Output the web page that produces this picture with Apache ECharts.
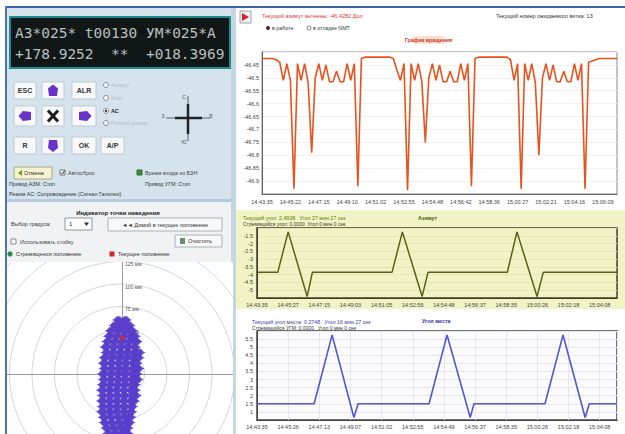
<!DOCTYPE html>
<html><head><meta charset="utf-8">
<script src="https://cdn.jsdelivr.net/npm/echarts/dist/echarts.min.js"></script>
<style>
html,body{margin:0;padding:0;background:#fff;}
#wrap{position:relative;width:625px;height:434px;overflow:hidden;background:#fff;}
#left{position:absolute;left:0;top:0;width:234px;height:434px;}
#polar{position:absolute;left:7px;top:262px;width:226px;height:172px;background:#fff;}
#right{position:absolute;left:234px;top:0;width:391px;height:434px;}
</style></head>
<body><div id="wrap"><div id="left"></div><div id="polar"></div><div id="right"></div></div>
<script>
// ---------------- DATA ----------------
const displayLine1 = 'АЗ*025* t00130 УМ*025*А';
const displayLine2 = '+178.9252  **  +018.3969';

const topTimes = ['14:43:35','14:45:22','14:47:15','14:49:10','14:51:02','14:52:55','14:54:48','14:56:42','14:58:36','15:00:27','15:02:21','15:04:16','15:06:09'];
const topValues = [
 -46.425,-46.425,-46.425,-46.425,-46.43,-46.44,-46.51,-46.445,-46.51,-46.93,
 -46.445,-46.51,-46.445,-46.52,-46.79,-46.50,-46.445,-46.51,-46.45,-46.515,
 -46.515,-46.475,-46.515,-46.515,-46.445,-46.51,-46.445,-46.92,-46.425,-46.42,
 -46.42,-46.42,-46.42,-46.42,-46.42,-46.42,-46.42,-46.425,-46.47,-46.51,
 -46.445,-46.935,-46.445,-46.51,-46.445,-46.51,-46.75,-46.50,-46.445,-46.51,
 -46.45,-46.515,-46.515,-46.475,-46.515,-46.515,-46.445,-46.51,-46.445,-46.92,
 -46.425,-46.42,-46.42,-46.42,-46.42,-46.42,-46.42,-46.42,-46.42,-46.42,
 -46.43,-46.51,-46.445,-46.93,-46.445,-46.51,-46.445,-46.52,-46.80,-46.50,
 -46.445,-46.51,-46.45,-46.515,-46.515,-46.475,-46.515,-46.515,-46.445,-46.51,
 -46.445,-46.93,-46.44,-46.435,-46.43,-46.425,-46.425,-46.425,-46.425,-46.425,
 -46.425
];

const midTimes = ['14:43:35','14:45:27','14:47:15','14:49:03','14:51:05','14:52:56','14:54:48','14:56:37','14:58:35','15:00:26','15:02:18','15:04:08'];
const midX = [0, 6, 9, 14.5, 16, 39, 42, 47.7, 49.4, 72.3, 75.1, 80.9, 82.7, 104];
const midY = [-3.85, -3.85, -1.25, -5.4, -3.85, -3.85, -1.25, -5.4, -3.85, -3.85, -1.25, -5.4, -3.85, -3.85];

const botTimes = ['14:43:35','14:45:26','14:47:13','14:49:07','14:51:02','14:52:55','14:54:49','14:56:37','14:58:35','15:00:26','15:02:18','15:04:08'];
const botX = [0, 16.5, 21.7, 28, 29.2, 49.7, 54.9, 61.6, 62.7, 83.2, 88.4, 94.8, 96, 104];
const botY = [1.5, 1.5, 5.75, 0.65, 1.5, 1.5, 5.75, 0.65, 1.5, 1.5, 5.75, 0.65, 1.5, 1.5];

const ringLabels = [25, 50, 75, 100, 125];
const blobRowsY = [60,54,48,42,36,30,24,18,12,6,0,-6,-12,-18,-24,-30,-36,-42,-48,-54,-60,-66];
const blobRowsX = [
 [-4,4],[-8,0,8],[-12,-4,4,11],[-14,-6,2,10,14],[-16,-8,0,8,16],[-18,-10,-2,6,14],
 [-17,-9,-1,7,15,19],[-19,-11,-3,5,13,18],[-20,-12,-4,4,12,16],[-19,-11,-3,5,13,18],[-21,-13,-5,3,11,16],
 [-20,-12,-4,4,12,17],[-21,-13,-5,3,11,14],[-22,-14,-6,2,10,14],[-21,-13,-5,3,11,15],[-22,-14,-6,2,10,13],
 [-21,-13,-5,3,11],[-22,-14,-6,2,10],[-20,-12,-4,4,9],[-19,-11,-3,5,8],[-17,-9,-1,6],[-15,-7,1,6]
];
const currentPos = [0, 40];

// ---------------- HELPERS ----------------
const F = 'Liberation Sans, Arial, sans-serif';
function R(x,y,w,h,fill,stroke,lw,z){return {type:'rect',shape:{x:x,y:y,width:w,height:h},style:{fill:fill,stroke:stroke||null,lineWidth:lw||1},z:z||1};}
function T(x,y,text,size,fill,opt){opt=opt||{};return {type:'text',x:x,y:y,z:opt.z||5,style:{text:text,font:(opt.bold?'bold ':'')+size+'px '+(opt.family||F),fill:fill,textAlign:opt.align||'left',textVerticalAlign:'middle',align:opt.align||'left',verticalAlign:'middle'}};}
function L(x1,y1,x2,y2,stroke,lw,z){return {type:'line',shape:{x1:x1,y1:y1,x2:x2,y2:y2},style:{stroke:stroke,lineWidth:lw||1},z:z||3};}
function P(points,fill,z){return {type:'polygon',shape:{points:points},style:{fill:fill},z:z||4};}
function C(cx,cy,r,fill,stroke,z){return {type:'circle',shape:{cx:cx,cy:cy,r:r},style:{fill:fill,stroke:stroke||null,lineWidth:1},z:z||4};}

// ---------------- LEFT PANEL ----------------
const purple = '#6a32c8';
const btnFill = '#f6f8fa', btnStroke = '#bfcad2';
const leftG = [
  R(0,0,234,434,'#ffffff',null,1,0),
  R(7,8,227,192,'#d4e3ec',null,1,0),
  R(5,6,229,2,'#3a66a6',null,1,2),
  R(5,6,2,428,'#4a77b4',null,1,2),
  // display
  R(10,17,220,51,'#111616','#1f8b8e',2,2),
  T(15,33,displayLine1,14.5,'#b9c0c0',{family:'DejaVu Sans Mono, monospace'}),
  T(15,54,displayLine2,14.5,'#b9c0c0',{family:'DejaVu Sans Mono, monospace'}),
  // buttons row 1
  R(14,82,22,17,btnFill,btnStroke), T(25,90.5,'ESC',7,'#333',{align:'center',bold:true}),
  R(42,82,22,17,btnFill,btnStroke), P([[53,84.5],[58,88.5],[57,96],[49,96],[48,88.5]],purple),
  R(72,82,24,17,btnFill,btnStroke), T(84,90.5,'ALR',7,'#333',{align:'center',bold:true}),
  // row 2
  R(14,106,22,20,btnFill,btnStroke), P([[18.5,116],[23,111],[31,112],[31,120],[23,121]],purple),
  R(42,106,22,20,btnFill,btnStroke), L(48,110.5,58,121.5,'#1e1e1e',3,4), L(58,110.5,48,121.5,'#1e1e1e',3,4),
  R(72,106,24,20,btnFill,btnStroke), P([[91.5,116],[87,111],[79,112],[79,120],[87,121]],purple),
  // row 3
  R(14,137,22,17,btnFill,btnStroke), T(25,145.5,'R',7,'#333',{align:'center',bold:true}),
  R(42,137,22,17,btnFill,btnStroke), P([[53,152],[58,148],[57,140],[49,140],[48,148]],purple),
  R(72,137,24,17,btnFill,btnStroke), T(84,145.5,'OK',7,'#333',{align:'center',bold:true}),
  R(101,137,23,17,btnFill,btnStroke), T(112.5,145.5,'A/P',7,'#333',{align:'center',bold:true}),
  // radios
  C(106,85,2.5,'#fff','#7d8a92'), T(111,85,'Азимут',5.5,'#b0bfc8'),
  C(106,98,2.5,'#fff','#7d8a92'), T(111,98,'Угол',5.5,'#b0bfc8'),
  C(106,111,2.5,'#fff','#7d8a92'), C(106,111,1.2,'#333'), T(111,111,'АС',5.5,'#2a2a2a',{bold:true}),
  C(106,123,2.5,'#fff','#7d8a92'), T(111,123,'Ручной режим',5.5,'#b0bfc8'),
  // crosshair
  L(166,118,210,118,'#5a646a',1), L(175,118,202,118,'#202427',2.5),
  L(188,96,188,141,'#5a646a',1), L(188,104,188,134,'#202427',2.5),
  T(184,97,'С',5,'#555',{align:'center'}), T(184,142,'Ю',5,'#555',{align:'center'}),
  T(163,116,'З',5,'#555',{align:'center'}), T(211,116,'В',5,'#555',{align:'center'}),
  // row controls
  R(14,167,38,12,'#f5f3d0','#a8a888'), P([[18,173],[22,170],[22,176]],'#6a9a20'), T(24,173,'Отмена',5.5,'#333'),
  R(60,170,5,5,'#fff','#777'), L(61,172.5,62.5,174,'#333',1,5), L(62.5,174,64.5,170.5,'#333',1,5), T(68,173,'Автосброс',5.5,'#444'),
  R(137,170,5,5,'#3d8e3d','#2a6a2a'), T(145,173,'Время входа из БЗН',5.5,'#444'),
  T(9,184,'Привод АЗМ: Стоп',5.3,'#333'), T(145,184,'Привод УГМ: Стоп',5.3,'#333'),
  T(9,194,'Режим АС: Сопровождение (Сигнал Галилео)',5.3,'#333'),
  // lower panel header
  R(7,200,227,62,'#f0f2f3',null,1,0),
  R(7,199,227,3,'#b6cbdd',null,1,2),
  T(118,213,'Индикатор точки наведения',6,'#222',{align:'center',bold:true}),
  T(11,224,'Выбор градуса:',5.5,'#333'),
  R(65,218,27,12,'#fff','#8a969e'), T(69,224,'1',6,'#222'), P([[84,222.5],[89,222.5],[86.5,226]],'#333'),
  R(108,218,114,13,'#f7f8f9','#a8b2b8'), T(165,224.5,'◄◄ Домой в текущее положение',5.5,'#333',{align:'center'}),
  R(11,239,5,5,'#fff','#888'), T(20,241.5,'Использовать стойку',5.5,'#444'),
  R(175,235,47,12,'#f7f8f9','#a8b2b8'), R(180,238,5,6,'#6b8f6b'), T(188,241,'Очистить',5.5,'#333'),
  C(10,254,2.6,'#2e8a4a'), T(16,254,'Стремящееся положение',5.5,'#333'),
  R(109.5,251.5,5,5,'#d02828'), T(118,254,'Текущее положение',5.5,'#333'),
  R(7,262,227,172,'#ffffff',null,1,0),
  R(231,8,3,426,'#c4d6e2',null,1,2)
];
const leftChart = echarts.init(document.getElementById('left'), null, {renderer:'svg'});
leftChart.setOption({animation:false, graphic:{elements:leftG}});

// ---------------- POLAR (target indicator) ----------------
const pxPerMm = 0.9, cX = 115, cY = 112, pW = 226, pH = 172;
const blobData = [];
blobRowsY.forEach((y,i)=>blobRowsX[i].forEach(x=>blobData.push([x,y])));
const polarChart = echarts.init(document.getElementById('polar'), null, {renderer:'svg'});
polarChart.setOption({
  animation:false,
  polar:{center:[cX,cY], radius:175*pxPerMm},
  angleAxis:{type:'value', min:0, max:360, startAngle:90, show:false, splitLine:{show:false}},
  radiusAxis:{type:'value', min:0, max:175, interval:25,
    axisLine:{show:false}, axisTick:{show:false},
    splitLine:{show:true, lineStyle:{color:'#d6d6d6', width:1}},
    axisLabel:{show:true, margin:-3, align:'left', verticalAlign:'top', fontSize:5, color:'#555', fontFamily:F,
      formatter:v=>ringLabels.indexOf(v)>=0? v+' мм':''}},
  grid:{left:0, top:0, width:pW, height:pH},
  xAxis:{type:'value', min:-cX/pxPerMm, max:(pW-cX)/pxPerMm, axisLine:{onZero:true, lineStyle:{color:'#9a9a9a'}}, axisTick:{show:false}, axisLabel:{show:false}, splitLine:{show:false}},
  yAxis:{type:'value', min:-(pH-cY)/pxPerMm, max:cY/pxPerMm, axisLine:{onZero:true, lineStyle:{color:'#9a9a9a'}}, axisTick:{show:false}, axisLabel:{show:false}, splitLine:{show:false}},
  series:[
    {type:'scatter', data:blobData, symbol:'circle', symbolSize:8, itemStyle:{color:'#4e34c2'}, z:3},
    {type:'scatter', data:blobData, symbol:'diamond', symbolSize:[13,6], itemStyle:{color:'#5a3dcc', opacity:0.9}, z:3},
    {type:'scatter', data:[currentPos], symbol:'circle', symbolSize:5, itemStyle:{color:'#d22a2a'}, z:5}
  ]
});

// ---------------- RIGHT CHARTS ----------------
const rightG = [
  R(0,0,391,434,'#ffffff',null,1,-1),
  R(0,6,391,2,'#3a66a6',null,1,0),
  R(6,11,11,12,'#eef0f6','#9aa2b0',1,1), P([[8,13],[15,17],[8,21]],'#d02a2a',2),
  T(28,16,'Текущий азимут антенны: -46.4282 Дол',5.5,'#d23a3a'),
  C(34,28,2,'#333'), T(38,28,'в работе',5.3,'#333'),
  C(75,28,2,'#fff','#777'), T(79,28,'в отладке NMT',5.3,'#333'),
  T(262,16,'Текущий номер ожидаемого витка: 13',5.5,'#333'),
  R(179,36,31,8,'#fbe2d2',null,1,0), T(194.5,40,'График вращения',5.3,'#d2301e',{align:'center',bold:true}),
  R(2,210,389,99,'#f2f3c4',null,1,-1),
  T(9,218,'Текущий угол: 2.4938   Угол 27 мин 27 сек',5.3,'#5c7c12'),
  T(184,218,'Азимут',5.3,'#4a5a10',{bold:true}),
  T(9,224,'Стремящийся угол: 0.0000  Угол 0 мин 0 сек',5,'#3a3a2a'),
  T(18,322,'Текущий угол места: 0.2748   Угол 16 мин 27 сек',5.3,'#3a3aa8'),
  T(188,321,'Угол места',5.3,'#3030a0',{bold:true}),
  T(18,328,'Стремящийся УГМ: 0.0000   Угол 0 мин 0 сек',5,'#333'),
  R(0,8,2,426,'#c4d6e2',null,1,0)
];
const axisLbl = {fontSize:5.5, color:'#444', fontFamily:F};
const rightChart = echarts.init(document.getElementById('right'), null, {renderer:'svg'});
rightChart.setOption({
  animation:false,
  graphic:{elements:rightG},
  grid:[
    {left:28, top:52, width:355, height:142, show:true, borderColor:'#8a8a8a', borderWidth:1, backgroundColor:'#ffffff'},
    {left:23, top:228, width:360, height:70, show:true, borderColor:'#3e3e28', borderWidth:1.5, backgroundColor:'#f2f3c4'},
    {left:23, top:331, width:360, height:89, show:true, borderColor:'#444', borderWidth:1.5, backgroundColor:'#fbfbfd'}
  ],
  xAxis:[
    {gridIndex:0, type:'value', min:0, max:100, interval:8,
      axisLine:{lineStyle:{color:'#666'}}, axisTick:{show:false}, splitLine:{show:false},
      axisLabel:Object.assign({margin:5, showMaxLabel:false, formatter:v=>topTimes[Math.round(v/8)]||''},axisLbl)},
    {gridIndex:1, type:'value', min:0, max:104, interval:9,
      axisLine:{lineStyle:{color:'#3e3e28'}}, axisTick:{show:false}, splitLine:{show:false},
      axisLabel:Object.assign({margin:4, showMaxLabel:false, formatter:v=>midTimes[Math.round(v/9)]||''},axisLbl)},
    {gridIndex:2, type:'value', min:0, max:104, interval:9,
      axisLine:{lineStyle:{color:'#444'}}, axisTick:{show:false}, splitLine:{show:true, lineStyle:{color:'#e6e6ee'}},
      axisLabel:Object.assign({margin:4, showMaxLabel:false, formatter:v=>botTimes[Math.round(v/9)]||''},axisLbl)}
  ],
  yAxis:[
    {gridIndex:0, type:'value', min:-46.95, max:-46.4, interval:0.05,
      axisLine:{show:true, lineStyle:{color:'#666'}}, axisTick:{show:false}, splitLine:{show:true, lineStyle:{color:'#f1f1f1'}},
      axisLabel:Object.assign({margin:3, showMinLabel:false, showMaxLabel:false},axisLbl)},
    {gridIndex:1, type:'value', min:-5.5, max:-1, interval:0.5,
      axisLine:{show:true, lineStyle:{color:'#3e3e28'}}, axisTick:{show:false}, splitLine:{show:true, lineStyle:{color:'#e4e6b4'}},
      axisLabel:Object.assign({margin:4, showMinLabel:false, showMaxLabel:false},axisLbl)},
    {gridIndex:2, type:'value', min:0.5, max:6, interval:0.5,
      axisLine:{show:true, lineStyle:{color:'#444'}}, axisTick:{show:false}, splitLine:{show:true, lineStyle:{color:'#e6e6ee'}},
      axisLabel:Object.assign({margin:4, showMinLabel:false, showMaxLabel:false},axisLbl)}
  ],
  series:[
    {type:'line', xAxisIndex:0, yAxisIndex:0, showSymbol:false, symbol:'none',
      data:topValues.map((v,i)=>[i,v]), lineStyle:{color:'#e8521e', width:1.6}},
    {type:'line', xAxisIndex:1, yAxisIndex:1, showSymbol:false, symbol:'none',
      data:midX.map((x,i)=>[x,midY[i]]), lineStyle:{color:'#56621a', width:1.5}},
    {type:'line', xAxisIndex:2, yAxisIndex:2, showSymbol:false, symbol:'none',
      data:botX.map((x,i)=>[x,botY[i]]), lineStyle:{color:'#5558c8', width:1.6}}
  ]
});
</script>
</body></html>
